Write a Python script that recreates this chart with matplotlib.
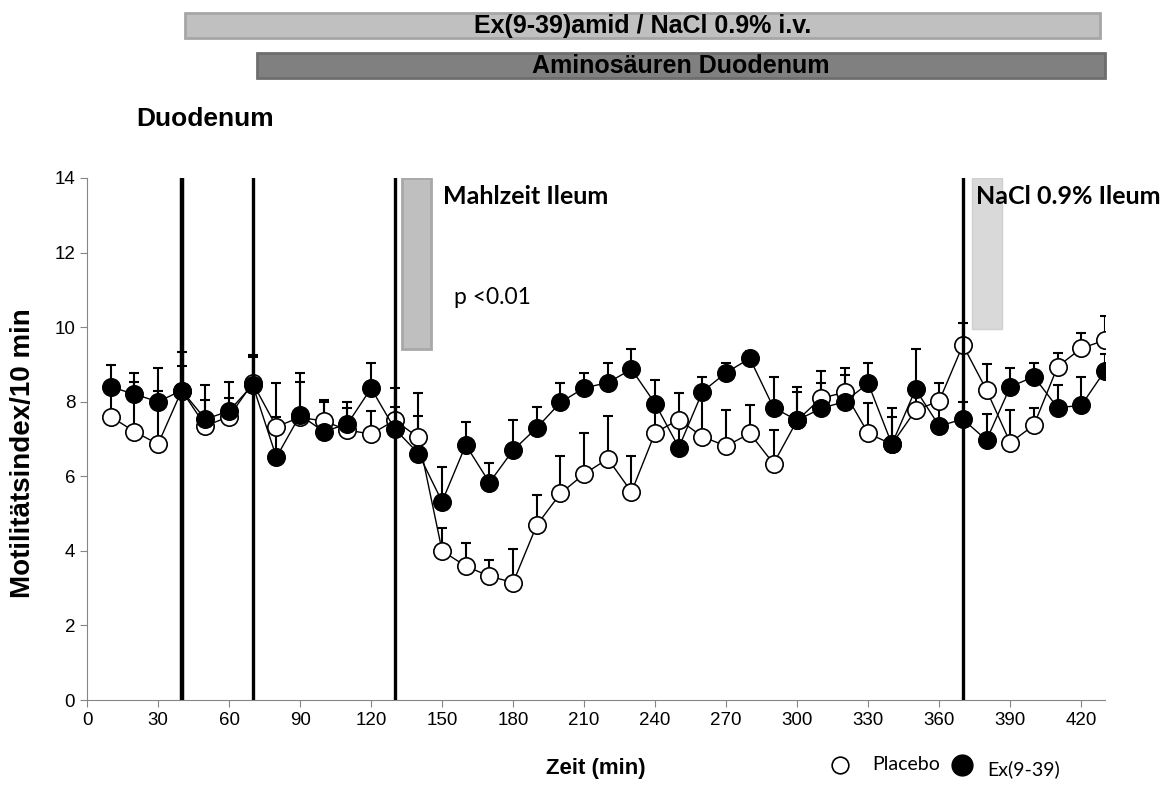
import matplotlib
matplotlib.use("Agg")
import matplotlib.pyplot as plt
import matplotlib.transforms as mtransforms
from matplotlib.patches import Rectangle
import numpy as np

plt.rcParams['font.family'] = ['Liberation Sans', 'DejaVu Sans']

# time points (min)
zeit = np.arange(10, 431, 10)

placebo = [7.6, 7.2, 6.86, 8.3, 7.35, 7.6, 8.5, 7.33, 7.58, 7.48,
           7.24, 7.13, 7.5, 7.04, 4.0, 3.59, 3.32, 3.15, 4.69, 5.54,
           6.06, 6.47, 5.58, 7.17, 7.52, 7.06, 6.81, 7.15, 6.34, 7.5,
           8.09, 8.25, 7.15, 6.86, 7.77, 8.02, 9.52, 8.31, 6.9, 7.37,
           8.94, 9.43, 9.65]
placebo_err = [0.8, 1.33, 1.42, 0.65, 0.69, 0.5, 0.7, 1.17, 0.95, 0.52,
               0.6, 0.62, 0.87, 1.18, 0.6, 0.61, 0.43, 0.9, 0.81, 1.0,
               1.09, 1.14, 0.96, 0.7, 0.72, 1.0, 0.96, 0.75, 0.91, 0.77,
               0.73, 0.46, 0.82, 0.74, 0.5, 0.49, 0.58, 0.69, 0.87, 0.47,
               0.37, 0.41, 0.65]

ex939 = [8.4, 8.2, 8.0, 8.3, 7.53, 7.75, 8.45, 6.51, 7.64, 7.2,
         7.4, 8.36, 7.27, 6.61, 5.32, 6.84, 5.83, 6.7, 7.3, 7.98,
         8.37, 8.51, 8.87, 7.95, 6.77, 8.27, 8.78, 9.16, 7.84, 7.5,
         7.82, 8.0, 8.49, 6.86, 8.33, 7.35, 7.53, 6.97, 8.4, 8.67,
         7.84, 7.9, 8.83]
ex939_err = [0.58, 0.57, 0.9, 1.03, 0.92, 0.78, 0.8, 1.07, 1.13, 0.84,
             0.6, 0.68, 0.59, 1.0, 0.92, 0.62, 0.53, 0.82, 0.56, 0.53,
             0.41, 0.53, 0.54, 0.63, 0.7, 0.4, 0.25, 0.2, 0.81, 0.9,
             0.68, 0.91, 0.56, 0.98, 1.08, 0.5, 0.45, 0.7, 0.51, 0.38,
             0.6, 0.77, 0.44]

event_lines = [40, 70, 130, 370]
event_widths = [3.2, 2.4, 2.4, 2.4]

fig = plt.figure(figsize=(11.68, 7.98), dpi=100)
ax = fig.add_axes([0.0745, 0.1228, 0.8715, 0.6542])

zero = np.zeros(len(zeit))
ax.errorbar(zeit, placebo, yerr=[zero, placebo_err], fmt='none', ecolor='black',
            elinewidth=1.5, capsize=3.5, capthick=1.5, zorder=2)
ax.errorbar(zeit, ex939, yerr=[zero, ex939_err], fmt='none', ecolor='black',
            elinewidth=1.5, capsize=3.5, capthick=1.5, zorder=2)
ax.plot(zeit, placebo, '-o', color='black', lw=1.0, ms=12.5,
        mfc='white', mec='black', mew=1.2, zorder=3)
ax.plot(zeit, ex939, '-o', color='black', lw=1.0, ms=12.5,
        mfc='black', mec='black', mew=1.2, zorder=4)

for x, w in zip(event_lines, event_widths):
    ax.axvline(x, color='black', lw=w, zorder=5)

# infusion boxes in the plot
ax.add_patch(Rectangle((133, 9.4), 12.5, 4.6, facecolor='#bfbfbf',
                       edgecolor='#a8a8a8', lw=2, zorder=1))
ax.add_patch(Rectangle((374, 9.95), 12.5, 4.05, facecolor='#d9d9d9',
                       edgecolor='#d0d0d0', lw=1, zorder=1))

ax.text(150.5, 13.5, 'Mahlzeit Ileum', fontsize=18, fontweight='bold',
        family=['Lato', 'DejaVu Sans'], va='center', ha='left')
ax.text(375.5, 13.5, 'NaCl 0.9% Ileum', fontsize=18, fontweight='bold',
        family=['Lato', 'DejaVu Sans'], va='center', ha='left', clip_on=False)
ax.text(155, 10.8, 'p <0.01', fontsize=16.5, family=['Lato', 'DejaVu Sans'],
        va='center', ha='left')

ax.set_xlim(0, 430)
ax.set_ylim(0, 14)
ax.set_xticks(np.arange(0, 421, 30))
ax.set_yticks(np.arange(0, 15, 2))
ax.tick_params(labelsize=13.5, direction='out', length=5, color='#868686')
for s in ['top', 'right']:
    ax.spines[s].set_visible(False)
for s in ['left', 'bottom']:
    ax.spines[s].set_color('#868686')

ax.set_xlabel('Zeit (min)', fontsize=16, fontweight='bold')
ax.set_ylabel('Motilitätsindex/10 min', fontsize=20, fontweight='bold')
ax.xaxis.set_label_coords(0.5, -0.111)
ax.yaxis.set_label_coords(-0.05, 0.473)

# treatment bars above the plot (x in data coords, y in figure coords)
trans = mtransforms.blended_transform_factory(ax.transData, fig.transFigure)
ax.add_patch(Rectangle((41.5, 0.952), 386.5, 0.032, facecolor='#c0c0c0',
                       edgecolor='#a6a6a6', lw=2, transform=trans, clip_on=False))
ax.text(234.5, 0.967, 'Ex(9-39)amid / NaCl 0.9% i.v.', transform=trans,
        ha='center', va='center', fontsize=18, fontweight='bold')
ax.add_patch(Rectangle((72, 0.902), 358, 0.032, facecolor='#808080',
                       edgecolor='#6e6e6e', lw=2, transform=trans, clip_on=False))
ax.text(251, 0.917, 'Aminosäuren Duodenum', transform=trans,
        ha='center', va='center', fontsize=18, fontweight='bold')

fig.text(0.117, 0.851, 'Duodenum', fontsize=19, fontweight='bold', va='center')

# legend
lax = fig.add_axes([0, 0, 1, 1], facecolor='none')
lax.set_xlim(0, 1168)
lax.set_ylim(798, 0)
lax.axis('off')
lax.plot([840], [765], 'o', ms=12, mfc='white', mec='black', mew=1.2)
lax.plot([962], [765], 'o', ms=15, mfc='black', mec='black')
lax.text(872, 765, 'Placebo', fontsize=14, family=['Lato', 'DejaVu Sans'], va='center')
lax.text(987, 769, 'Ex(9-39)', fontsize=14, family=['Lato', 'DejaVu Sans'], va='center')

fig.savefig('out.png', dpi=100)
